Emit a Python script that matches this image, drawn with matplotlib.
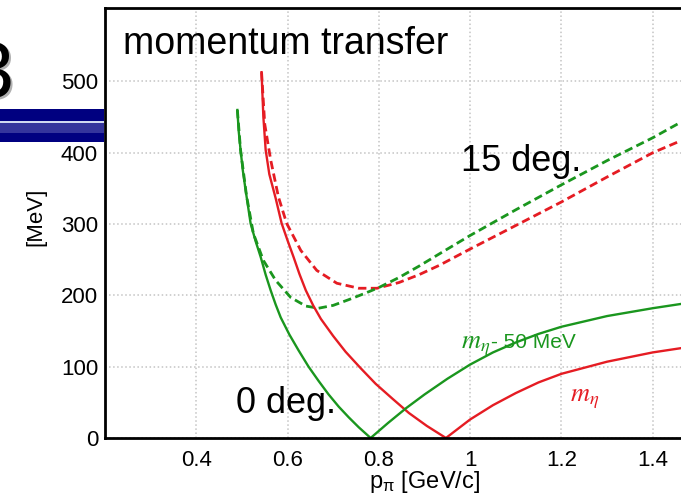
import matplotlib
matplotlib.use('Agg')
import matplotlib.pyplot as plt
from matplotlib.patches import Rectangle

# pion momentum [GeV/c] vs momentum transfer [MeV]
# m_eta, 0 deg (red solid)
p_red_0 = [0.543, 0.547, 0.552, 0.560, 0.574, 0.587, 0.600, 0.613, 0.626, 0.640, 0.656,
           0.673, 0.700, 0.727, 0.760, 0.793, 0.830, 0.866, 0.905, 0.947,
           1.000, 1.050, 1.100, 1.150, 1.200, 1.300, 1.400, 1.462]
q_red_0 = [513, 450, 404, 370, 336, 301, 277, 254, 230, 207, 186,
           167, 143, 121, 98, 76, 55, 35, 17, 0,
           26, 46, 63, 78, 90, 107, 120, 126]

# m_eta - 50 MeV, 0 deg (green solid)
p_green_0 = [0.490, 0.493, 0.497, 0.502, 0.508, 0.519, 0.530, 0.541, 0.552, 0.563, 0.574,
             0.585, 0.604, 0.624, 0.646, 0.668, 0.690, 0.712, 0.734, 0.756, 0.782,
             0.820, 0.860, 0.900, 0.950, 1.000, 1.050, 1.100, 1.150, 1.200, 1.300, 1.400, 1.462]
q_green_0 = [460, 430, 404, 375, 348, 301, 276, 254, 229, 207, 187,
             169, 145, 123, 100, 80, 61, 44, 29, 15, 0,
             21, 42, 61, 83, 103, 120, 134, 146, 156, 171, 182, 188]

# m_eta, 15 deg (red dashed)
p_red_15 = [0.543, 0.550, 0.563, 0.580, 0.598, 0.629, 0.664, 0.708, 0.756, 0.796,
            0.844, 0.888, 0.932, 1.000, 1.100, 1.200, 1.300, 1.400, 1.462]
q_red_15 = [513, 440, 390, 338, 301, 263, 235, 217, 210, 210,
            218, 229, 242, 265, 298, 331, 366, 400, 417]

# m_eta - 50 MeV, 15 deg (green dashed)
p_green_15 = [0.490, 0.497, 0.510, 0.525, 0.547, 0.574, 0.607, 0.640, 0.668, 0.700, 0.734,
              0.770, 0.800, 0.844, 0.888, 0.932, 1.000, 1.100, 1.200, 1.300, 1.400, 1.462]
q_green_15 = [460, 404, 340, 287, 249, 221, 197, 185, 182, 186, 194,
              203, 211, 225, 241, 258, 284, 320, 355, 389, 421, 443]

x_ticks = [0.4, 0.6, 0.8, 1.0, 1.2, 1.4]
x_tick_labels = ['0.4', '0.6', '0.8', '1', '1.2', '1.4']
y_ticks = [0, 100, 200, 300, 400, 500]

RED = '#e51c23'
GREEN = '#1a961e'


def main():
    plt.rcParams['font.family'] = ['Liberation Sans', 'DejaVu Sans']
    plt.rcParams['mathtext.fontset'] = 'custom'
    plt.rcParams['mathtext.rm'] = 'Liberation Sans'
    plt.rcParams['mathtext.it'] = 'Liberation Sans:italic'

    W, H = 681, 503
    fig = plt.figure(figsize=(W / 100, H / 100), dpi=100)
    ax = fig.add_axes([105 / W, 1 - 438 / H, 1 - 105 / W, 430 / H])

    # slide decoration on the left
    for y0, y1, c in ((109, 121, '#000080'), (121, 123, '#d0d8f0'),
                      (123, 133, '#34349c'), (133, 142, '#000080')):
        fig.add_artist(Rectangle((0, 1 - y1 / H), 104 / W, (y1 - y0) / H,
                                 transform=fig.transFigure, color=c, lw=0))
    fig.text(16 / W, 1 - 99 / H, '3', ha='right', va='baseline', fontsize=57, color='#b0b0b0')
    fig.text(14 / W, 1 - 97 / H, '3', ha='right', va='baseline', fontsize=57, color='black')

    ax.plot(p_red_15, q_red_15, color=RED, lw=2.0, dashes=(3, 1.6))
    ax.plot(p_green_15, q_green_15, color=GREEN, lw=2.0, dashes=(3, 1.6))
    ax.plot(p_red_0, q_red_0, color=RED, lw=1.7)
    ax.plot(p_green_0, q_green_0, color=GREEN, lw=1.7)

    ax.set_xlim(0.2, 1.462)
    ax.set_ylim(0, 603)
    ax.set_xticks(x_ticks)
    ax.set_xticklabels(x_tick_labels)
    ax.set_yticks(y_ticks)
    ax.tick_params(length=0, labelsize=16)
    ax.tick_params(axis='x', pad=9)
    ax.tick_params(axis='y', pad=5)
    ax.grid(True, color='#c4c4c4', linestyle=':', linewidth=1.1)
    ax.set_axisbelow(True)
    for side in ('left', 'bottom', 'top'):
        ax.spines[side].set_linewidth(2.0)
        ax.spines[side].set_color('black')
    ax.spines['right'].set_visible(False)

    ax.set_xlabel(r'p$_{\mathrm{\pi}}$ [GeV/c]', fontsize=17)
    ax.xaxis.set_label_coords(0.554, -0.072)
    fig.text(36 / W, 1 - 217 / H, '[MeV]', rotation=90, ha='center', va='center', fontsize=16)

    ax.text(0.24, 538, 'momentum transfer', fontsize=27, va='baseline')
    ax.text(0.98, 375, '15 deg.', fontsize=26, va='baseline')
    ax.text(0.486, 35, '0 deg.', fontsize=26, va='baseline')
    ax.text(0.98, 126, r'$m_\eta$', fontsize=19, color=GREEN, va='baseline',
            math_fontfamily='stix')
    ax.text(1.046, 126, '- 50 MeV', fontsize=15, color=GREEN, va='baseline')
    ax.text(1.218, 52, r'$m_\eta$', fontsize=19, color=RED, va='baseline',
            math_fontfamily='stix')

    plt.savefig('out.png', dpi=100)


if __name__ == "__main__":
    main()
